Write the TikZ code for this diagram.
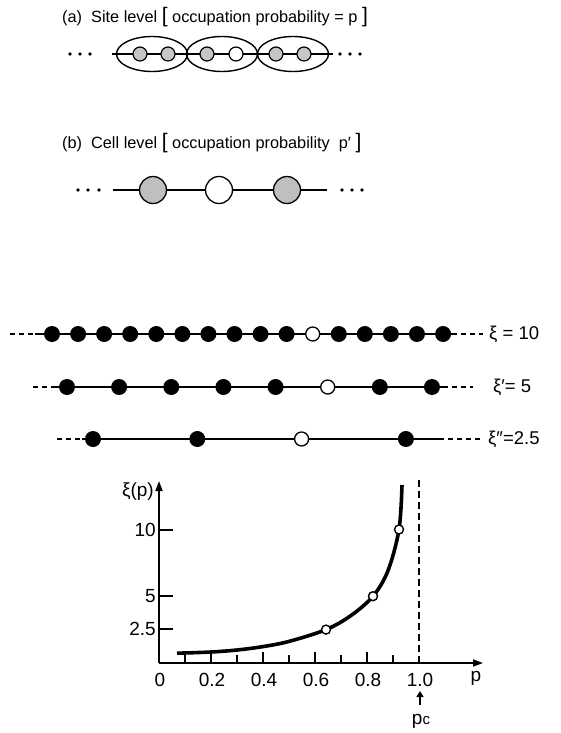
\documentclass[tikz,border=0pt]{standalone}
\usepackage{fontspec}
\setmainfont{Liberation Sans}
\usetikzlibrary{arrows.meta,shapes.geometric}
\begin{document}
\begin{tikzpicture}[x=1pt,y=-1pt,
  title/.style={inner sep=0pt, anchor=west, font=\fontsize{16.3}{18}\selectfont},
  rowlbl/.style={inner sep=0pt, anchor=west, font=\fontsize{18.5}{20}\selectfont},
  axlbl/.style={inner sep=0pt, font=\fontsize{19}{21}\selectfont},
  cellell/.style={ellipse, draw, line width=1.4pt, minimum width=71pt, minimum height=35pt, inner sep=0pt},
  smallsite/.style={circle, draw, line width=1.2pt, fill=gray!45, minimum size=14pt, inner sep=0pt},
  smallopen/.style={circle, draw, line width=1.2pt, fill=white, minimum size=14pt, inner sep=0pt},
  bigsite/.style={circle, draw, line width=1.3pt, fill=gray!50, minimum size=27pt, inner sep=0pt},
  bigopen/.style={circle, draw, line width=1.3pt, fill=white, minimum size=27pt, inner sep=0pt},
  fullsite/.style={circle, fill=black, minimum size=16pt, inner sep=0pt},
  opensite/.style={circle, draw, line width=1.3pt, fill=white, minimum size=14pt, inner sep=0pt},
  chain/.style={line width=2pt},
  tail/.style={line width=1.3pt, dash pattern=on 5pt off 4pt},
  dotmark/.style={circle, fill=black, minimum size=3.8pt, inner sep=0pt},
  curvept/.style={circle, draw, line width=1.4pt, fill=white, minimum size=9pt, inner sep=0pt},
  axis/.style={line width=1.8pt, -{Triangle[length=10pt,width=7pt]}},
  tick/.style={line width=1.5pt}
]
\useasboundingbox (0,0) rectangle (561,733);

% ---------- (a) site level ----------
\node[title] (ta) at (62,17) {(a)\ \ Site level {\fontsize{21}{21}\selectfont[} occupation probability = p {\fontsize{21}{21}\selectfont]}};
\coordinate (aL) at (112,54);
\coordinate (aR) at (333,54);
\draw[chain] (aL) -- (aR);
\node[cellell] (e1) at (152,54) {};
\node[cellell] (e2) at (222,54) {};
\node[cellell] (e3) at (293,54) {};
\node[smallsite] (a1) at (140,54) {};
\node[smallsite] (a2) at (168,54) {};
\node[smallsite] (a3) at (207,54) {};
\node[smallopen] (a4) at (236,54) {};
\node[smallsite] (a5) at (276,54) {};
\node[smallsite] (a6) at (304,54) {};
\foreach \x [count=\k] in {70,80,90} \node[dotmark] (adl\k) at (\x,54) {};
\foreach \x [count=\k] in {340,350,360} \node[dotmark] (adr\k) at (\x,54) {};

% ---------- (b) cell level ----------
\node[title] (tb) at (62,143) {(b)\ \ Cell level {\fontsize{21}{21}\selectfont[} occupation probability\ \ p′ {\fontsize{21}{21}\selectfont]}};
\coordinate (bL) at (113,190);
\coordinate (bR) at (327,190);
\draw[chain] (bL) -- (bR);
\node[bigsite] (b1) at (153,190) {};
\node[bigopen] (b2) at (219,190) {};
\node[bigsite] (b3) at (287,190) {};
\foreach \x [count=\k] in {78,88,99} \node[dotmark] (bdl\k) at (\x,190) {};
\foreach \x [count=\k] in {342,352,362} \node[dotmark] (bdr\k) at (\x,190) {};

% ---------- chains xi = 10, 5, 2.5 ----------
\coordinate (r1L) at (10,334); \coordinate (r1A) at (35,334);
\coordinate (r1B) at (452,334); \coordinate (r1R) at (483,334);
\draw[tail] (r1L) -- (r1A);
\draw[chain] (r1A) -- (r1B);
\draw[tail] (r1B) -- (r1R);
\foreach \i in {1,...,16} {
  \pgfmathsetmacro\xx{52+26.07*(\i-1)}
  \ifnum\i=11 \node[opensite] (s1-\i) at (\xx,334) {};
  \else \node[fullsite] (s1-\i) at (\xx,334) {}; \fi
}
\node[rowlbl] (l1) at (489,334) {ξ = 10};

\coordinate (r2L) at (33,387); \coordinate (r2A) at (55,387);
\coordinate (r2B) at (443,387); \coordinate (r2R) at (473,387);
\draw[tail] (r2L) -- (r2A);
\draw[chain] (r2A) -- (r2B);
\draw[tail] (r2B) -- (r2R);
\foreach \i in {1,...,8} {
  \pgfmathsetmacro\xx{67+52.14*(\i-1)}
  \ifnum\i=6 \node[opensite] (s2-\i) at (\xx,387) {};
  \else \node[fullsite] (s2-\i) at (\xx,387) {}; \fi
}
\node[rowlbl] (l2) at (493,387) {ξ′= 5};

\coordinate (r3L) at (57,439); \coordinate (r3A) at (82,439);
\coordinate (r3B) at (439,439); \coordinate (r3R) at (480,439);
\draw[tail] (r3L) -- (r3A);
\draw[chain] (r3A) -- (r3B);
\draw[tail] (r3B) -- (r3R);
\foreach \i in {1,...,4} {
  \pgfmathsetmacro\xx{93+104.3*(\i-1)}
  \ifnum\i=3 \node[opensite] (s3-\i) at (\xx,439) {};
  \else \node[fullsite] (s3-\i) at (\xx,439) {}; \fi
}
\node[rowlbl] (l3) at (488,439) {ξ″=2.5};

% ---------- graph xi(p) ----------
\coordinate (O) at (159,663);
\coordinate (Ytop) at (159,481);
\coordinate (Xend) at (483,663);
\draw[axis] (O) -- (Ytop);
\draw[axis] (O) -- (Xend);
\node[axlbl, anchor=east] (ylab) at (154,492) {ξ(p)};
\foreach \yy/\t in {530/10, 596/5, 629/2.5} {
  \draw[tick] (159,\yy) -- (173,\yy);
  \node[axlbl, anchor=east] at (156,\yy) {\t};
}
\foreach \k in {1,...,9} {
  \pgfmathsetmacro\xx{159+26*\k}
  \ifodd\k \draw[tick] (\xx,663) -- (\xx,655); \else \draw[tick] (\xx,663) -- (\xx,652); \fi
}
\node[axlbl] (x0) at (160,680) {0};
\node[axlbl] (x2) at (212,680) {0.2};
\node[axlbl] (x4) at (264,680) {0.4};
\node[axlbl] (x6) at (316,680) {0.6};
\node[axlbl] (x8) at (368,680) {0.8};
\node[axlbl] (x10) at (420,680) {1.0};
\node[axlbl] (plab) at (476,678) {p};
\coordinate (pcT) at (419,480);
\coordinate (pcB) at (419,663);
\draw[line width=1.3pt, dash pattern=on 7pt off 4pt] (pcT) -- (pcB);
\node[axlbl] (pc) at (421,721) {p{\fontsize{15}{15}\selectfont c}};
\coordinate (arB) at (420,705);
\coordinate (arT) at (420,691);
\draw[line width=1.8pt, -{Triangle[length=6pt,width=7pt]}] (arB) -- (arT);

\draw[line width=3.6pt] plot[smooth, tension=0.55] coordinates {
  (177,653.2) (211,652.0) (237,650) (263,646.6) (289,641.4) (326,629.6)
  (351,615.5) (373,596.2) (388,570.6) (399,529.5) (402,485)};
\node[curvept] (c1) at (326,629.6) {};
\node[curvept] (c2) at (373,596.2) {};
\node[curvept] (c3) at (399,529.5) {};
\end{tikzpicture}
\end{document}
